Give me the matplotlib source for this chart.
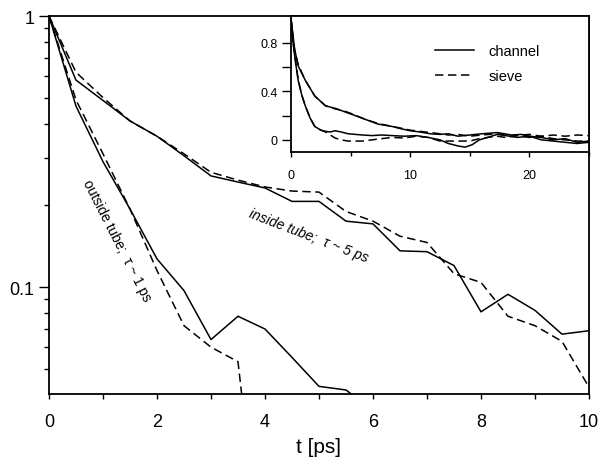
import matplotlib

matplotlib.use("Agg")
import matplotlib.pyplot as plt
from matplotlib.ticker import FixedLocator, NullFormatter

plt.rcParams["font.family"] = ["Liberation Sans", "DejaVu Sans"]

# main panel: correlation vs time, sampled every 0.5 ps
t_main = [0.0, 0.5, 1.0, 1.5, 2.0, 2.5, 3.0, 3.5, 4.0, 4.5, 5.0, 5.5, 6.0, 6.5, 7.0, 7.5, 8.0, 8.5, 9.0, 9.5, 10.0]
inside_channel = [1.0, 0.58, 0.488, 0.41, 0.36, 0.305, 0.257, 0.244, 0.232, 0.207, 0.207, 0.175, 0.171, 0.136,
                  0.135, 0.12, 0.081, 0.094, 0.082, 0.067, 0.069]
inside_sieve = [1.0, 0.62, 0.50, 0.41, 0.36, 0.31, 0.265, 0.248, 0.234, 0.226, 0.224, 0.19, 0.175, 0.154,
                0.146, 0.112, 0.104, 0.078, 0.072, 0.063, 0.0427]
t_out_channel = [0.0, 0.5, 1.0, 1.5, 2.0, 2.5, 3.0, 3.5, 4.0, 4.5, 5.0, 5.5, 6.0]
outside_channel = [1.0, 0.465, 0.29, 0.194, 0.127, 0.097, 0.064, 0.078, 0.070, 0.055, 0.043, 0.0417, 0.035]
t_out_sieve = [0.0, 0.5, 1.0, 1.5, 2.0, 2.5, 3.0, 3.5, 4.0]
outside_sieve = [1.0, 0.49, 0.31, 0.194, 0.115, 0.072, 0.060, 0.053, 0.007]

# inset: longer time window, linear scale
t_in_slow = [0, 0.3, 0.6, 1.2, 2.0, 2.9, 3.7, 4.4, 5.1, 6.2, 7.3, 8.5, 9.3, 10.0, 10.8, 11.7, 12.5, 13.2, 14.0,
             15.0, 16.0, 17.3, 18.5, 19.3, 20.0, 21.0, 22.0, 23.0, 24.0, 25.0]
slow_channel = [1.0, 0.75, 0.61, 0.49, 0.36, 0.28, 0.26, 0.235, 0.21, 0.17, 0.13, 0.11, 0.09, 0.075, 0.065,
                0.05, 0.045, 0.05, 0.03, 0.04, 0.05, 0.06, 0.04, 0.045, 0.03, 0.02, 0.0, 0.01, -0.02, -0.01]
slow_sieve = [1.0, 0.74, 0.62, 0.49, 0.36, 0.28, 0.255, 0.24, 0.215, 0.17, 0.135, 0.11, 0.095, 0.08, 0.07,
              0.06, 0.05, 0.04, 0.045, 0.03, 0.04, 0.05, 0.03, 0.04, 0.045, 0.03, 0.04, 0.03, 0.04, 0.035]
t_in_fast = [0, 0.15, 0.35, 0.6, 0.9, 1.2, 1.6, 2.0, 2.5, 2.9, 3.3, 3.7, 4.2, 4.8, 5.4, 6.0, 6.8, 7.6, 8.5,
             9.5, 10.5, 11.5, 12.5, 13.2, 14.0, 14.6, 15.2, 15.8, 16.5, 17.3, 18.0, 19.0, 20.0, 21.0, 22.0,
             23.0, 24.0, 25.0]
fast_channel = [1.0, 0.82, 0.66, 0.49, 0.37, 0.28, 0.18, 0.11, 0.08, 0.07, 0.065, 0.075, 0.065, 0.05, 0.045,
                0.04, 0.035, 0.04, 0.035, 0.03, 0.035, 0.02, 0.0, -0.03, -0.05, -0.06, -0.04, 0.0, 0.02,
                0.045, 0.035, 0.02, 0.03, 0.0, -0.01, -0.02, -0.03, -0.02]
fast_sieve = [1.0, 0.83, 0.67, 0.50, 0.37, 0.28, 0.18, 0.11, 0.08, 0.065, 0.04, 0.015, 0.0, -0.01, -0.01,
              -0.01, 0.0, 0.01, 0.02, 0.015, 0.03, 0.02, -0.01, -0.01, -0.01, -0.01, -0.005, 0.01, 0.02,
              0.03, 0.02, 0.035, 0.02, 0.03, 0.01, 0.0, -0.01, -0.01]

dash = (0, (5.5, 3))
lw = 1.1

fig = plt.figure(figsize=(5.99, 4.60), dpi=100)
ax = fig.add_axes([49 / 599, 65 / 460, 540 / 599, 378 / 460])

ax.plot(t_main, inside_channel, color="black", lw=lw)
ax.plot(t_main, inside_sieve, color="black", lw=lw, linestyle=dash)
ax.plot(t_out_channel, outside_channel, color="black", lw=lw)
ax.plot(t_out_sieve, outside_sieve, color="black", lw=lw, linestyle=dash)

ax.set_yscale("log")
ax.set_xlim(0, 10)
ax.set_ylim(0.0403, 1.0)
ax.yaxis.set_major_locator(FixedLocator([0.1, 1.0]))
ax.set_yticklabels(["0.1", "1"])
ax.yaxis.set_minor_locator(FixedLocator([0.05, 0.06, 0.07, 0.08, 0.09, 0.2, 0.3, 0.4, 0.5, 0.6, 0.7, 0.8, 0.9]))
ax.yaxis.set_minor_formatter(NullFormatter())
ax.set_xticks([0, 2, 4, 6, 8, 10])
ax.set_xticks([1, 3, 5, 7, 9], minor=True)
ax.tick_params(axis="y", which="major", direction="out", length=7, width=1, labelsize=13, pad=3.5)
ax.tick_params(axis="y", which="minor", direction="out", length=3.5, width=1)
ax.tick_params(axis="x", which="both", direction="out", length=3.5, width=1, labelsize=13, pad=10)
for s in ax.spines.values():
    s.set_linewidth(1.3)
ax.set_xlabel("t [ps]", fontsize=15, labelpad=5)

ax.text(1.26, 0.149, "outside tube;  \u03c4 ~ 1 ps", rotation=-63, fontsize=10,
        ha="center", va="center", rotation_mode="anchor")
ax.text(4.8, 0.156, "inside tube;  \u03c4 ~ 5 ps", rotation=-21, fontsize=10, style="italic",
        ha="center", va="center", rotation_mode="anchor")

ins = fig.add_axes([291 / 599, 307 / 460, 298 / 599, 136 / 460])
ins.plot(t_in_slow, slow_channel, color="black", lw=lw, label="channel")
ins.plot(t_in_slow, slow_sieve, color="black", lw=lw, linestyle=dash, label="sieve")
ins.plot(t_in_fast, fast_channel, color="black", lw=lw)
ins.plot(t_in_fast, fast_sieve, color="black", lw=lw, linestyle=dash)
ins.set_xlim(0, 25)
ins.set_ylim(-0.1, 1.02)
ins.set_xticks([0, 10, 20])
ins.set_xticks([5, 15, 25], minor=True)
ins.set_yticks([0, 0.4, 0.8])
ins.set_yticklabels(["0", "0.4", "0.8"])
ins.set_yticks([0.2, 0.6], minor=True)
ins.tick_params(axis="y", which="both", direction="out", length=6.5, width=1, labelsize=9, pad=3)
ins.tick_params(axis="x", which="major", direction="out", length=3.5, width=1, labelsize=9, pad=9)
ins.tick_params(axis="x", which="minor", direction="out", length=3, width=1)
for s in ins.spines.values():
    s.set_linewidth(1.3)
ins.legend(loc="center left", bbox_to_anchor=(0.458, 0.65), frameon=False, fontsize=10.5,
           handlelength=2.66, handletextpad=1.0, labelspacing=0.75, borderpad=0)

fig.savefig("out.png", dpi=100)
